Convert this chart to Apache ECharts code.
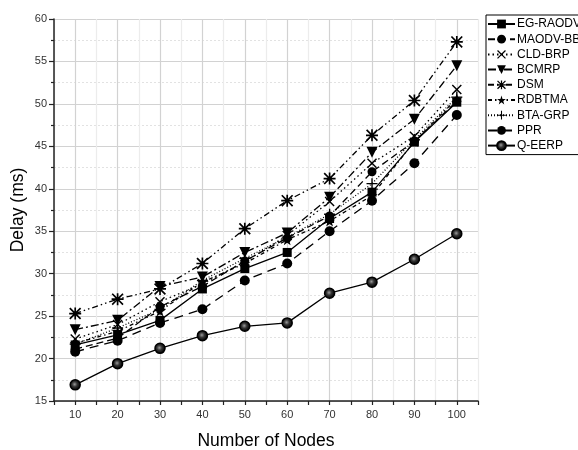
<!DOCTYPE html>
<html>
<head>
<meta charset="utf-8">
<script src="https://cdn.jsdelivr.net/npm/echarts@6/dist/echarts.min.js"></script>
<style>
  html, body { margin: 0; padding: 0; background: #fff; }
  #chart { width: 578px; height: 450px; }
</style>
</head>
<body>
<div id="chart"></div>
<script>
// node counts on the x axis
const nodes = [10, 20, 30, 40, 50, 60, 70, 80, 90, 100]

// delay (ms) per protocol
const egRaodv = [21.6, 22.8, 24.5, 28.2, 30.6, 32.5, 36.5, 39.6, 45.5, 50.2]
const maodvBb = [21.1, 22.4, 26.1, 28.5, 31.5, 34.2, 36.8, 42.0, 45.6, 50.3]
const cldBrp = [22.3, 24.0, 26.7, 28.8, 31.4, 34.5, 38.5, 43.0, 46.2, 51.7]
const bcmrp = [23.4, 24.5, 28.5, 29.6, 32.5, 34.8, 39.0, 44.3, 48.2, 54.5]
const dsm = [25.3, 27.0, 28.2, 31.2, 35.3, 38.6, 41.2, 46.3, 50.4, 57.3]
const rdbtma = [21.8, 23.2, 25.6, 29.0, 31.2, 34.0, 36.2, 39.2, 45.6, 50.6]
const btaGrp = [21.7, 23.6, 25.8, 29.2, 31.8, 34.3, 37.0, 40.6, 45.8, 50.8]
const ppr = [20.8, 22.1, 24.2, 25.8, 29.2, 31.2, 35.0, 38.6, 43.0, 48.7]
const qEerp = [16.9, 19.4, 21.2, 22.7, 23.8, 24.2, 27.7, 29.0, 31.7, 34.7]

const yTicks = { min: 15, max: 60, step: 5 }

const font = 'Liberation Sans, Arial, sans-serif'

// marker shapes
const crossPath = 'path://M1,0 L5,4 L9,0 L10,1 L6,5 L10,9 L9,10 L5,6 L1,10 L0,9 L4,5 L0,1 Z'
const plusPath = 'path://M4.4,0 H5.6 V4.4 H10 V5.6 H5.6 V10 H4.4 V5.6 H0 V4.4 H4.4 Z'
const asteriskPath = 'path://M4.3,0 H5.7 V4.3 H10 V5.7 H5.7 V10 H4.3 V5.7 H0 V4.3 H4.3 Z ' +
  'M1,0 L5,4 L9,0 L10,1 L6,5 L10,9 L9,10 L5,6 L1,10 L0,9 L4,5 L0,1 Z'
const starPath = 'path://M5,0 L6.2,3.6 L10,3.6 L7,5.9 L8.1,9.5 L5,7.3 L1.9,9.5 L3,5.9 L0,3.6 L3.8,3.6 Z'

const mk = (name, values, symbol, size, dash, extra) => {
  return Object.assign({
    name: name,
    type: 'line',
    data: nodes.map((n, i) => [n, values[i]]),
    symbol: symbol,
    symbolSize: size,
    lineStyle: { color: '#000', width: 1.3, type: dash },
    itemStyle: { color: '#000' },
    emphasis: { disabled: true },
    z: 3
  }, extra || {})
}

const series = [
  mk('EG-RAODV', egRaodv, 'rect', 9, 'solid'),
  mk('MAODV-BB', maodvBb, 'circle', 9, [7, 4]),
  mk('CLD-BRP', cldBrp, crossPath, 10, [1.5, 3]),
  mk('BCMRP', bcmrp, 'triangle', 11, [8, 3, 2, 3], { symbolRotate: 180 }),
  mk('DSM', dsm, asteriskPath, 12, [6, 3, 1.5, 3, 1.5, 3]),
  mk('RDBTMA', rdbtma, starPath, 11, [4, 3, 1.5, 3]),
  mk('BTA-GRP', btaGrp, plusPath, 11, [1, 2]),
  mk('PPR', ppr, 'circle', 10, [9, 6]),
  mk('Q-EERP', qEerp, 'circle', 10, 'solid', {
    itemStyle: {
      color: {
        type: 'radial', x: 0.45, y: 0.45, r: 0.5,
        colorStops: [{ offset: 0, color: '#9a9a9a' }, { offset: 0.45, color: '#333' }, { offset: 1, color: '#000' }]
      },
      borderColor: '#000',
      borderWidth: 1.5
    }
  })
]

const chart = echarts.init(document.getElementById('chart'))

chart.setOption({
  animation: false,
  backgroundColor: '#fff',
  textStyle: { fontFamily: font },
  grid: { left: 54, top: 19, right: 100, bottom: 49, containLabel: false, outerBoundsMode: 'none' },
  legend: {
    orient: 'vertical',
    left: 486,
    top: 15,
    itemWidth: 27,
    itemHeight: 11,
    itemGap: 3.2,
    padding: [3, 6, 3, 1],
    borderColor: '#000',
    borderWidth: 1,
    borderRadius: 0,
    textStyle: { fontFamily: font, fontSize: 12, color: '#000', padding: [0, 0, 0, -3] },
    data: series.map(s => s.name)
  },
  xAxis: {
    type: 'value',
    min: 5,
    max: 105,
    interval: 5,
    name: 'Number of Nodes',
    nameLocation: 'middle',
    nameGap: 31,
    nameTextStyle: { fontFamily: font, fontSize: 17.5, color: '#000' },
    axisLine: { lineStyle: { color: '#222', width: 1.5 } },
    axisTick: { length: 4, lineStyle: { color: '#222', width: 1.2 } },
    axisLabel: {
      fontFamily: font,
      fontSize: 11,
      color: '#333',
      margin: 8,
      formatter: v => (v % 10 === 0 ? String(v) : '')
    },
    splitLine: { show: true, lineStyle: { color: ['#ececec', '#d2d2d2'], width: 1.2 } }
  },
  yAxis: {
    type: 'value',
    min: yTicks.min,
    max: yTicks.max,
    interval: yTicks.step,
    name: 'Delay (ms)',
    nameLocation: 'middle',
    nameGap: 27,
    nameMoveOverlap: false,
    nameTextStyle: { fontFamily: font, fontSize: 17.5, color: '#000' },
    axisLine: { show: true, lineStyle: { color: '#222', width: 1.5 } },
    axisTick: { show: true, length: 5, lineStyle: { color: '#222', width: 1.2 } },
    minorTick: { show: true, splitNumber: 2, length: 3, lineStyle: { color: '#222', width: 1.2 } },
    axisLabel: { fontFamily: font, fontSize: 11, color: '#333', margin: 7 },
    splitLine: { show: true, lineStyle: { color: '#d2d2d2', width: 1.2 } },
    minorSplitLine: { show: true, lineStyle: { color: '#e2e2e2', width: 1, type: [2, 2] } }
  },
  series: series
})
</script>
</body>
</html>
